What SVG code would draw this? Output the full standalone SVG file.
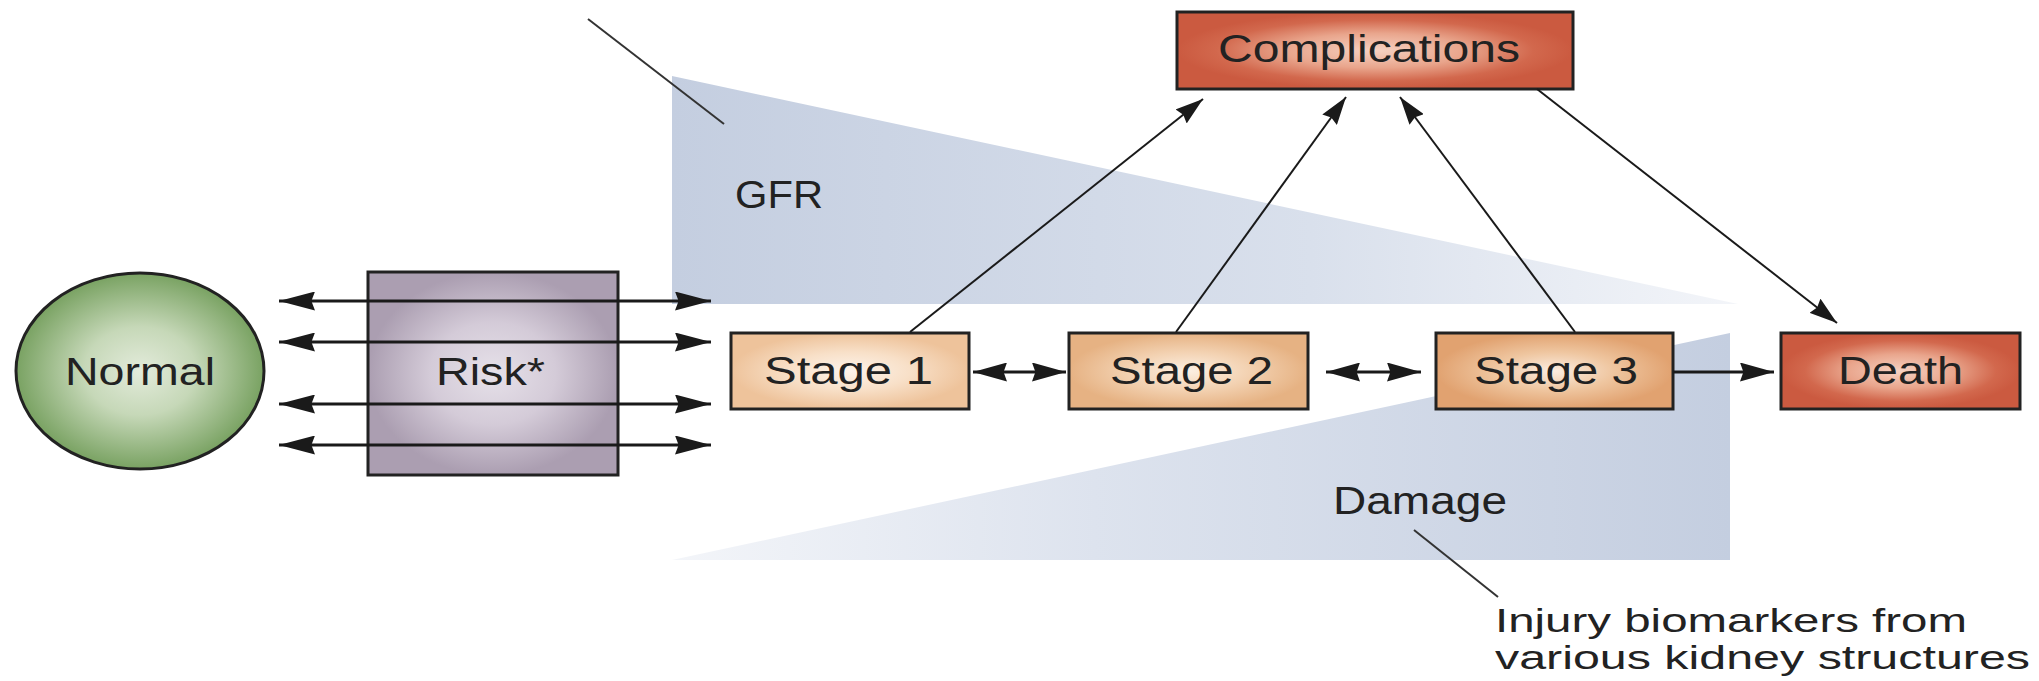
<svg xmlns="http://www.w3.org/2000/svg" width="2039" height="681" viewBox="0 0 2039 681">
<style>
  .lbl { font-family: "Liberation Sans", Arial, sans-serif; font-size: 38px; fill: #222; }
  .sm { font-size: 33px; }
  .node { stroke: #222; stroke-width: 3; }
  .conn { stroke: #1a1a1a; stroke-width: 2; fill: none; }
  .hconn { stroke: #1a1a1a; stroke-width: 3; fill: none; }
  .lead { stroke: #333; stroke-width: 2; fill: none; }
</style>
<defs>
  <linearGradient id="gfrG" x1="0" y1="0" x2="1" y2="0">
    <stop offset="0" stop-color="#c4cee0"/>
    <stop offset="0.6" stop-color="#d9e0ec"/>
    <stop offset="1" stop-color="#f3f5f9"/>
  </linearGradient>
  <linearGradient id="dmgG" x1="0" y1="0" x2="1" y2="0">
    <stop offset="0" stop-color="#f3f5f9"/>
    <stop offset="0.4" stop-color="#dde3ee"/>
    <stop offset="1" stop-color="#c4cee0"/>
  </linearGradient>
  <radialGradient id="normG">
    <stop offset="0" stop-color="#e3ebdb"/>
    <stop offset="0.45" stop-color="#c6d8b8"/>
    <stop offset="1" stop-color="#79a262"/>
  </radialGradient>
  <radialGradient id="riskG">
    <stop offset="0" stop-color="#e6e1e9"/>
    <stop offset="0.5" stop-color="#d4cbd8"/>
    <stop offset="1" stop-color="#ab9eb1"/>
  </radialGradient>
  <radialGradient id="s1G">
    <stop offset="0" stop-color="#fdf3ea"/>
    <stop offset="0.5" stop-color="#f8e0c8"/>
    <stop offset="1" stop-color="#eec39b"/>
  </radialGradient>
  <radialGradient id="s2G">
    <stop offset="0" stop-color="#fcefe2"/>
    <stop offset="0.5" stop-color="#f3d2b2"/>
    <stop offset="1" stop-color="#e6b283"/>
  </radialGradient>
  <radialGradient id="s3G">
    <stop offset="0" stop-color="#fbece0"/>
    <stop offset="0.5" stop-color="#efc6a0"/>
    <stop offset="1" stop-color="#e1a270"/>
  </radialGradient>
  <radialGradient id="redG">
    <stop offset="0" stop-color="#f6d2c2"/>
    <stop offset="0.45" stop-color="#e9a58c"/>
    <stop offset="0.8" stop-color="#d2684d"/>
    <stop offset="1" stop-color="#cb5a40"/>
  </radialGradient>
  <marker id="ah" viewBox="0 0 10 10" refX="10" refY="5" markerWidth="28" markerHeight="18" markerUnits="userSpaceOnUse" orient="auto-start-reverse" preserveAspectRatio="none">
    <path d="M0,0 L10,5 L0,10 L1,5 z" fill="#1a1a1a"/>
  </marker>
  <marker id="ahH" viewBox="0 0 10 10" refX="10" refY="5" markerWidth="34" markerHeight="19" markerUnits="userSpaceOnUse" orient="auto-start-reverse" preserveAspectRatio="none">
    <path d="M0,0 L10,5 L0,10 L1,5 z" fill="#1a1a1a"/>
  </marker>
  <marker id="ahL" viewBox="0 0 10 10" refX="10" refY="5" markerWidth="36" markerHeight="19" markerUnits="userSpaceOnUse" orient="auto-start-reverse" preserveAspectRatio="none">
    <path d="M0,0 L10,5 L0,10 L1,5 z" fill="#1a1a1a"/>
  </marker>
</defs>

<g id="gfr-band">
  <polygon points="672,76 672,304 1738,304" fill="url(#gfrG)"/>
  <line class="lead" x1="588" y1="19" x2="724" y2="124"/>
  <text class="lbl" x="735" y="208" textLength="88" lengthAdjust="spacingAndGlyphs">GFR</text>
</g>

<g id="damage-band">
  <polygon points="672,560 1730,333 1730,560" fill="url(#dmgG)"/>
  <text class="lbl" x="1333" y="514" font-size="36" textLength="174" lengthAdjust="spacingAndGlyphs">Damage</text>
  <line class="lead" x1="1414" y1="530" x2="1498" y2="597"/>
  <text class="lbl sm" x="1495" y="632" textLength="472" lengthAdjust="spacingAndGlyphs">Injury biomarkers from</text>
  <text class="lbl sm" x="1495" y="669" textLength="535" lengthAdjust="spacingAndGlyphs">various kidney structures</text>
</g>

<g id="normal">
  <ellipse class="node" cx="140" cy="371" rx="124" ry="98" fill="url(#normG)" stroke-width="2.5"/>
  <text class="lbl" x="65" y="385" textLength="150" lengthAdjust="spacingAndGlyphs">Normal</text>
</g>

<g id="risk">
  <rect class="node" x="368" y="272" width="250" height="203" fill="url(#riskG)"/>
  <text class="lbl" x="436" y="385" textLength="109" lengthAdjust="spacingAndGlyphs">Risk*</text>
</g>

<g id="stage1">
  <rect class="node" x="731" y="333" width="238" height="76" fill="url(#s1G)"/>
  <text class="lbl" x="764" y="384" textLength="169" lengthAdjust="spacingAndGlyphs">Stage 1</text>
</g>

<g id="stage2">
  <rect class="node" x="1069" y="333" width="239" height="76" fill="url(#s2G)"/>
  <text class="lbl" x="1110" y="384" textLength="163" lengthAdjust="spacingAndGlyphs">Stage 2</text>
</g>

<g id="stage3">
  <rect class="node" x="1436" y="333" width="237" height="76" fill="url(#s3G)"/>
  <text class="lbl" x="1474" y="384" textLength="164" lengthAdjust="spacingAndGlyphs">Stage 3</text>
</g>

<g id="death">
  <rect class="node" x="1781" y="333" width="239" height="76" fill="url(#redG)"/>
  <text class="lbl" x="1838" y="384" textLength="125" lengthAdjust="spacingAndGlyphs">Death</text>
</g>

<g id="complications">
  <rect class="node" x="1177" y="12" width="396" height="77" fill="url(#redG)"/>
  <text class="lbl" x="1218" y="62" textLength="302" lengthAdjust="spacingAndGlyphs">Complications</text>
</g>

<g id="connectors">
  <line class="hconn" x1="279" y1="301" x2="711" y2="301" marker-start="url(#ahL)" marker-end="url(#ahL)"/>
  <line class="hconn" x1="279" y1="342" x2="711" y2="342" marker-start="url(#ahL)" marker-end="url(#ahL)"/>
  <line class="hconn" x1="279" y1="404" x2="711" y2="404" stroke-width="2.5" marker-start="url(#ahL)" marker-end="url(#ahL)"/>
  <line class="hconn" x1="279" y1="445" x2="711" y2="445" stroke-width="4" marker-start="url(#ahL)" marker-end="url(#ahL)"/>
  <line class="hconn" x1="973" y1="372" x2="1066" y2="372" marker-start="url(#ahH)" marker-end="url(#ahH)"/>
  <line class="hconn" x1="1326" y1="372" x2="1421" y2="372" marker-start="url(#ahH)" marker-end="url(#ahH)"/>
  <line class="hconn" x1="1673" y1="372" x2="1774" y2="372" marker-end="url(#ahH)"/>
  <line class="conn" x1="910" y1="332" x2="1203" y2="99" marker-end="url(#ah)"/>
  <line class="conn" x1="1176" y1="332" x2="1346" y2="97" marker-end="url(#ah)"/>
  <line class="conn" x1="1575" y1="332" x2="1400" y2="97" marker-end="url(#ah)"/>
  <line class="conn" x1="1537" y1="89" x2="1837" y2="323" marker-end="url(#ah)"/>
</g>
</svg>
